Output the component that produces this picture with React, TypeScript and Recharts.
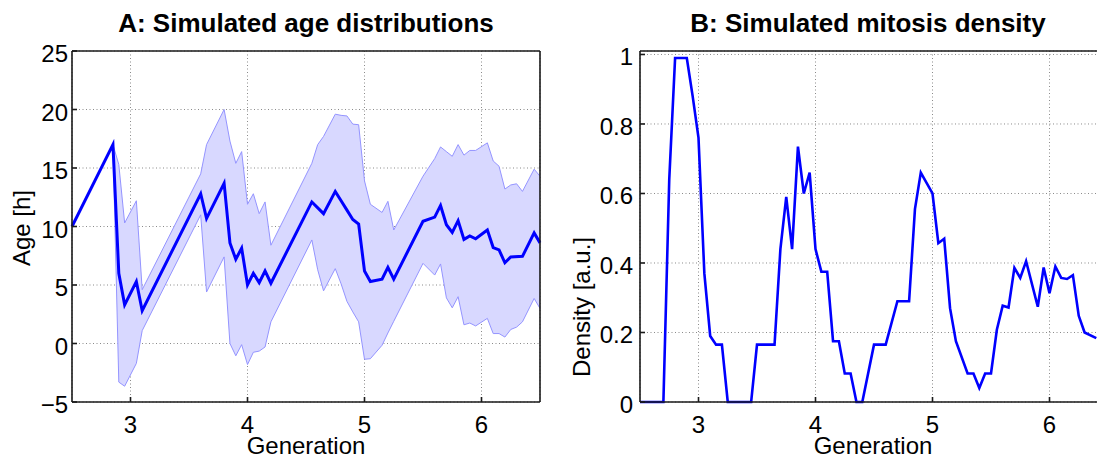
import React from "react";
import { Area, CartesianGrid, ComposedChart, Line, XAxis, YAxis } from "recharts";

// Panel A: spread of simulated ages per generation (band) and the mean age.
const bandGen = [2.5, 2.85, 2.9, 2.95, 3.05, 3.1, 3.6, 3.65, 3.8, 3.85, 3.9, 3.95, 4.0, 4.05, 4.1, 4.15, 4.2, 4.55, 4.6, 4.65, 4.75, 4.8, 4.85, 4.9, 4.95, 5.0, 5.05, 5.15, 5.2, 5.25, 5.5, 5.6, 5.65, 5.7, 5.75, 5.8, 5.85, 5.9, 5.95, 6.05, 6.1, 6.15, 6.2, 6.25, 6.3, 6.35, 6.45, 6.5];
const ageUpper = [10, 17, 15.3, 10.3, 12.2, 4.6, 14.5, 17.0, 20.0, 17.3, 15.4, 16.4, 11.9, 12.8, 11.1, 12.1, 8.4, 15.4, 17.0, 17.7, 19.6, 19.5, 19.45, 18.75, 18.7, 13.9, 11.9, 11.2, 12.15, 9.7, 14.3, 15.8, 16.8, 16.4, 16.0, 17.0, 16.1, 16.5, 16.5, 17.15, 15.6, 15.15, 13.2, 13.55, 13.65, 13.0, 14.9, 14.3];
const ageLower = [10, 17, -3.3, -3.65, -1.7, 1.1, 11.0, 4.4, 7.4, 0.0, -1.05, -0.1, -1.8, -0.75, -0.65, -0.3, 1.85, 8.85, 6.3, 4.5, 6.4, 5.1, 3.6, 2.7, 1.85, -1.35, -1.3, -0.15, 0.9, 1.9, 6.85, 5.85, 6.8, 3.9, 3.05, 4.0, 1.6, 1.75, 1.5, 2.15, 0.85, 0.85, 0.55, 1.2, 1.4, 1.85, 3.85, 3.0];

const meanGen = [2.5, 2.85, 2.9, 2.95, 3.05, 3.1, 3.6, 3.65, 3.8, 3.85, 3.9, 3.95, 4.0, 4.05, 4.1, 4.15, 4.2, 4.55, 4.65, 4.75, 4.8, 4.85, 4.9, 4.95, 5.0, 5.05, 5.15, 5.2, 5.25, 5.5, 5.6, 5.65, 5.7, 5.75, 5.8, 5.85, 5.9, 5.95, 6.05, 6.1, 6.15, 6.2, 6.25, 6.35, 6.45, 6.5];
const ageMean = [10, 17, 6.0, 3.3, 5.3, 2.8, 12.8, 10.7, 13.7, 8.6, 7.2, 8.15, 5.0, 6.0, 5.2, 6.2, 5.15, 12.1, 11.1, 13.0, 12.2, 11.4, 10.6, 10.2, 6.2, 5.3, 5.5, 6.5, 5.5, 10.45, 10.8, 11.8, 10.15, 9.5, 10.5, 8.9, 9.2, 8.95, 9.7, 8.2, 8.0, 6.9, 7.4, 7.45, 9.45, 8.6];

// Panel B: mitosis density
const densGen = [2.5, 2.7, 2.75, 2.8, 2.9, 2.95, 3.0, 3.05, 3.1, 3.15, 3.2, 3.25, 3.45, 3.5, 3.65, 3.7, 3.75, 3.8, 3.85, 3.9, 3.95, 4.0, 4.05, 4.1, 4.15, 4.2, 4.25, 4.3, 4.35, 4.4, 4.5, 4.6, 4.7, 4.8, 4.85, 4.9, 5.0, 5.05, 5.1, 5.15, 5.2, 5.3, 5.35, 5.4, 5.45, 5.5, 5.55, 5.6, 5.65, 5.7, 5.75, 5.8, 5.9, 5.95, 6.0, 6.05, 6.1, 6.15, 6.2, 6.25, 6.3, 6.4];
const density = [0, 0, 0.64, 0.99, 0.99, 0.88, 0.76, 0.37, 0.19, 0.165, 0.165, 0, 0, 0.165, 0.165, 0.44, 0.59, 0.44, 0.735, 0.6, 0.66, 0.44, 0.375, 0.375, 0.175, 0.175, 0.082, 0.082, 0, 0, 0.165, 0.165, 0.29, 0.29, 0.555, 0.66, 0.6, 0.457, 0.47, 0.27, 0.175, 0.082, 0.082, 0.04, 0.082, 0.082, 0.208, 0.277, 0.272, 0.386, 0.357, 0.405, 0.274, 0.387, 0.313, 0.39, 0.357, 0.354, 0.365, 0.248, 0.2, 0.184];

const genTicks = [3, 4, 5, 6];
const ageTicks = [-5, 0, 5, 10, 15, 20, 25];
const densTicks = [0, 0.2, 0.4, 0.6, 0.8, 1];

const FONT = "'Liberation Sans', Arial, Helvetica, sans-serif";
const BOX = { stroke: "#1a1a1a", strokeWidth: 1.6 };

const bandRows = bandGen.map((g, i) => ({ g, lo: ageLower[i], hi: ageUpper[i] }));
const meanRows = meanGen.map((g, i) => ({ g, m: ageMean[i] }));
const densRows = densGen.map((g, i) => ({ g, d: density[i] }));

const label = (v: number) => (v < 0 ? "\u2212" + Math.abs(v) : String(v));

// MATLAB-style labels: ticks point inward, so the labels are placed by hand
function LeftTick(p: any) {
  return (
    <text x={p.x} y={p.y + 11} textAnchor="end" fontSize={24} fontFamily={FONT} fill="#000">
      {label(p.payload.value)}
    </text>
  );
}

function BottomTick(p: any) {
  return (
    <text x={p.x} y={p.y + 17} textAnchor="middle" fontSize={24} fontFamily={FONT} fill="#000">
      {p.payload.value}
    </text>
  );
}

export default function App() {
  return (
    <div style={{ position: "absolute", left: 0, top: 0, width: 1097, height: 454, overflow: "hidden", background: "#fff" }}>
      <div style={{ position: "absolute", left: 0, top: 0 }}>
        <ComposedChart width={560} height={454} data={bandRows} margin={{ top: 50, right: 19, bottom: 0, left: 0 }}>
          <CartesianGrid stroke="#8a8a8a" strokeDasharray="1 2.5" />
          <XAxis dataKey="g" type="number" domain={[2.5, 6.5]} ticks={genTicks} height={52}
            axisLine={BOX} tickLine={BOX} tickSize={-5} tickMargin={19} tick={<BottomTick />} />
          <XAxis xAxisId="top" orientation="top" type="number" domain={[2.5, 6.5]} ticks={genTicks} height={1}
            axisLine={BOX} tickLine={BOX} tickSize={-5} tick={false} />
          <YAxis type="number" domain={[-5, 25]} ticks={ageTicks} width={72}
            axisLine={BOX} tickLine={BOX} tickSize={-5} tickMargin={9} tick={<LeftTick />} />
          <YAxis yAxisId="right" orientation="right" type="number" domain={[-5, 25]} ticks={ageTicks} width={1}
            axisLine={BOX} tickLine={BOX} tickSize={-5} tick={false} />
          <Area type="linear" dataKey={(r: any) => [r.lo, r.hi]} stroke="#9494ff" strokeWidth={1}
            fill="#d8d8ff" fillOpacity={1} dot={false} activeDot={false} isAnimationActive={false} />
          <Line type="linear" data={meanRows} dataKey="m" stroke="#0000ff" strokeWidth={3}
            dot={false} activeDot={false} isAnimationActive={false} />
        </ComposedChart>
      </div>
      {/* panel B runs past the right edge of the picture, as in the original */}
      <div style={{ position: "absolute", left: 560, top: 0 }}>
        <ComposedChart width={567} height={454} data={densRows} margin={{ top: 50, right: 19, bottom: 0, left: 0 }}>
          <CartesianGrid stroke="#8a8a8a" strokeDasharray="1 2.5" />
          <XAxis dataKey="g" type="number" domain={[2.5, 6.5]} ticks={genTicks} height={52}
            axisLine={BOX} tickLine={BOX} tickSize={-5} tickMargin={19} tick={<BottomTick />} />
          <XAxis xAxisId="top" orientation="top" type="number" domain={[2.5, 6.5]} ticks={genTicks} height={1}
            axisLine={BOX} tickLine={BOX} tickSize={-5} tick={false} />
          <YAxis type="number" domain={[0, 1.01]} ticks={densTicks} width={80}
            axisLine={BOX} tickLine={BOX} tickSize={-5} tickMargin={12} tick={<LeftTick />} />
          <Line type="linear" dataKey="d" stroke="#0000ff" strokeWidth={2.6}
            dot={false} activeDot={false} isAnimationActive={false} />
        </ComposedChart>
      </div>
      <svg width={1097} height={454} style={{ position: "absolute", left: 0, top: 0, pointerEvents: "none" }}>
        <g fontFamily={FONT} fill="#000">
          <text x={306} y={32} textAnchor="middle" fontSize={26} fontWeight="bold">A: Simulated age distributions</text>
          <text x={868} y={32} textAnchor="middle" fontSize={26} fontWeight="bold">B: Simulated mitosis density</text>
          <text x={306} y={454} textAnchor="middle" fontSize={24}>Generation</text>
          <text x={873} y={454} textAnchor="middle" fontSize={24}>Generation</text>
          <text transform="translate(30,228) rotate(-90)" textAnchor="middle" fontSize={24}>Age [h]</text>
          <text transform="translate(590,307) rotate(-90)" textAnchor="middle" fontSize={24}>Density [a.u.]</text>
        </g>
      </svg>
    </div>
  );
}
